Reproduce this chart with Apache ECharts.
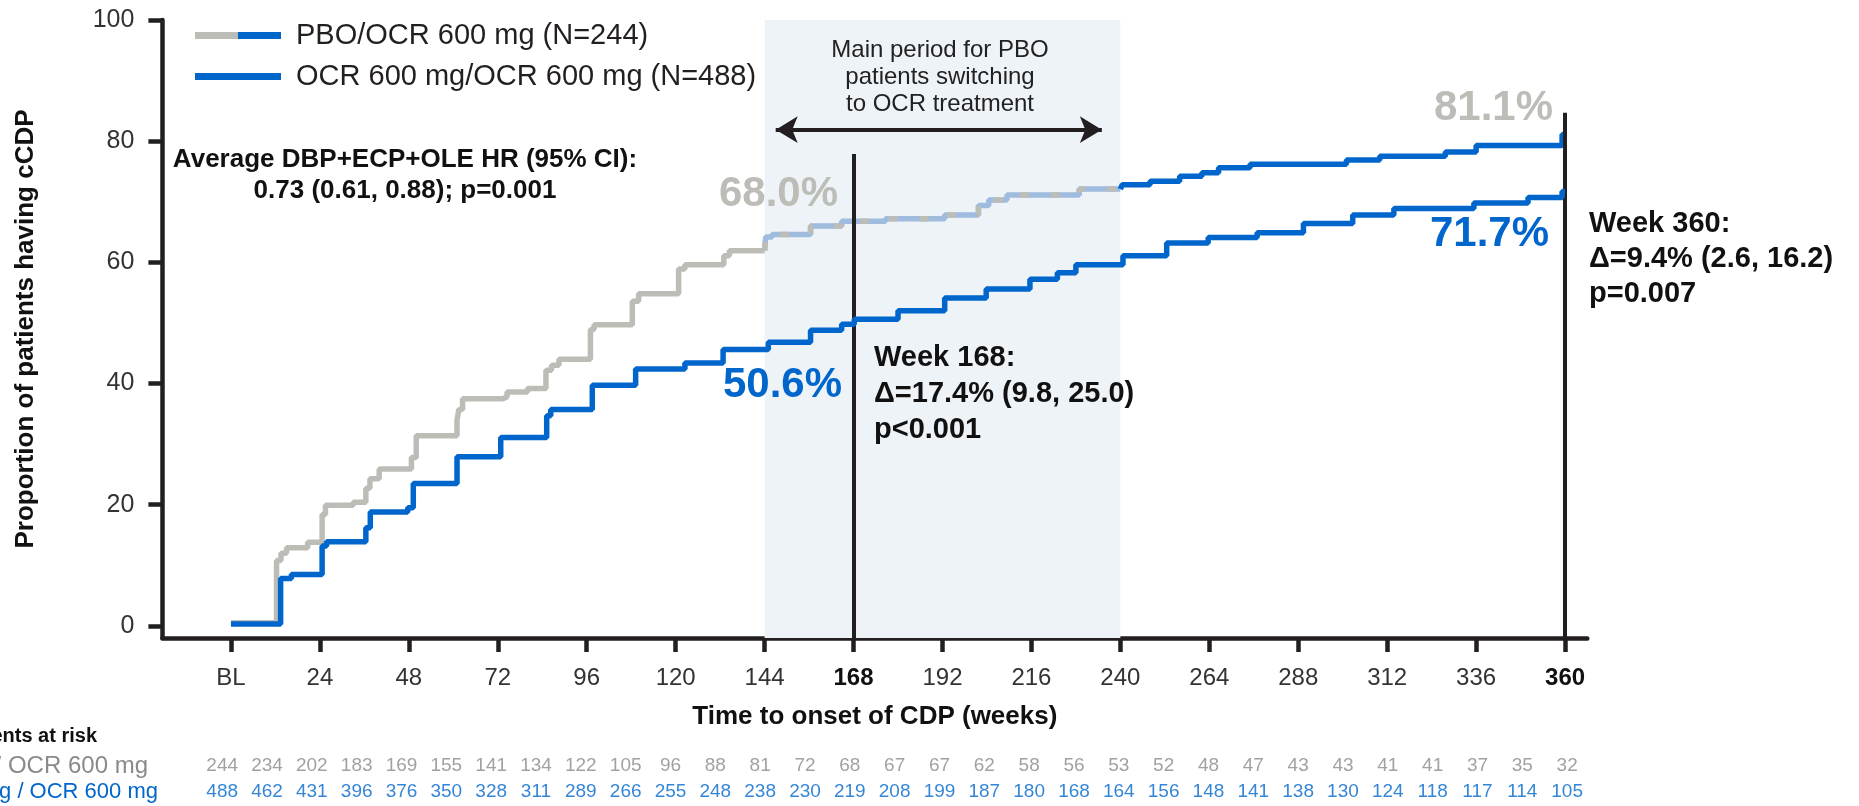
<!DOCTYPE html>
<html lang="en">
<head>
    <meta charset="UTF-8">
    <title>Time to onset of CDP</title>
    <style>html, body { margin: 0; padding: 0; background: #fff; }</style>
</head>
<body>
    <div id="main" style="width: 1859px; height: 806px"></div>
    <script src="https://cdn.jsdelivr.net/npm/echarts@6/dist/echarts.min.js"></script>
    <script type="text/javascript">
        // KM curves (week, % with cCDP)
        var pboWeeks = [0, 12.3, 13.5, 15, 20.7, 24.6, 25.5, 33, 36.4, 37.5, 40, 48.7, 50, 61, 61.5, 62.5, 73.4, 74.5, 80, 85, 86.5, 88.5, 97, 98, 108.3, 110, 120.8, 122.5, 133, 134.5, 144.3, 146, 156.4, 164.8, 176.6, 192.6, 201.7, 204.5, 209.4, 228.9, 240.5, 248, 256, 262, 266.5, 275, 301, 310, 327.7, 336, 359.2, 360];
        var pboVals = [0.5, 10.8, 12, 12.9, 13.8, 18.4, 19.9, 20.4, 22.7, 24.3, 25.9, 27.8, 31.4, 34, 35.7, 37.5, 37.8, 38.6, 39.2, 42.2, 43, 44, 48.9, 49.7, 53.6, 54.8, 58.9, 59.6, 61.1, 61.9, 64.2, 64.6, 66.0, 66.8, 67.2, 67.8, 69.4, 70.3, 71.1, 72.1, 72.8, 73.4, 74.2, 74.8, 75.6, 76.2, 76.9, 77.5, 78.2, 79.3, 81.1, 81.1];
        var ocrWeeks = [0, 13.4, 16.3, 24.6, 25.8, 36.4, 37.6, 47.7, 49.2, 61, 72.8, 85.2, 86.3, 97.5, 109.2, 122.5, 132.8, 145, 156.4, 164.8, 168.2, 180, 192.6, 203.8, 215.6, 223, 228, 240.7, 252.5, 263.7, 276.9, 289.4, 302.7, 313.8, 335.4, 350, 359.2, 360];
        var ocrVals = [0.3, 7.8, 8.5, 13.2, 13.9, 16.2, 18.8, 19.5, 23.5, 27.9, 31.1, 34.7, 35.7, 39.7, 42.4, 43.4, 45.6, 46.8, 48.8, 49.8, 50.6, 52.0, 54.1, 55.6, 57.2, 58.3, 59.6, 61.1, 63.2, 64.1, 64.9, 66.4, 67.8, 68.9, 69.8, 70.7, 71.7, 71.7];

        var xTicks = [0, 24, 48, 72, 96, 120, 144, 168, 192, 216, 240, 264, 288, 312, 336, 360];
        var yTicks = [0, 20, 40, 60, 80, 100];

        // patients at risk, every 12 weeks
        var riskWeeks = [0, 12, 24, 36, 48, 60, 72, 84, 96, 108, 120, 132, 144, 156, 168, 180, 192, 204, 216, 228, 240, 252, 264, 276, 288, 300, 312, 324, 336, 348, 360];
        var riskPbo = [244, 234, 202, 183, 169, 155, 141, 134, 122, 105, 96, 88, 81, 72, 68, 67, 67, 62, 58, 56, 53, 52, 48, 47, 43, 43, 41, 41, 37, 35, 32];
        var riskOcr = [488, 462, 431, 396, 376, 350, 328, 311, 289, 266, 255, 248, 238, 230, 219, 208, 199, 187, 180, 168, 164, 156, 148, 141, 138, 130, 124, 118, 117, 114, 105];

        var pboName = 'PBO/OCR 600 mg (N=244)';
        var ocrName = 'OCR 600 mg/OCR 600 mg (N=488)';

        var GRAY = '#bdbdb8';
        var BLUE = '#0066cc';
        var LIGHTBLUE = '#9fbbde';
        var INK = '#231f20';
        var FONT = '"Liberation Sans", Arial, sans-serif';

        // cut a step curve to the weeks a..b
        function clip(weeks, vals, a, b) {
            var out = [];
            var last = null;
            for (var i = 0; i < weeks.length; i++) {
                if (weeks[i] < a) { last = vals[i]; continue; }
                if (weeks[i] > b) break;
                if (out.length === 0 && weeks[i] > a && last !== null) out.push([a, last]);
                out.push([weeks[i], vals[i]]);
                last = vals[i];
            }
            if (out.length && out[out.length - 1][0] < b) out.push([b, last]);
            return out;
        }

        function stepLine(name, data, color, z, type) {
            return {
                name: name,
                type: 'line',
                step: 'end',
                data: data,
                showSymbol: false,
                silent: true,
                z: z,
                lineStyle: { color: color, width: 5.5, type: type || 'solid', cap: 'butt' },
                itemStyle: { color: color }
            };
        }

        function note(x, y, text, size, color, align, extra) {
            var st = {
                text: text, x: 0, y: 0, fontSize: size, fontFamily: FONT, fill: color,
                textAlign: align, textVerticalAlign: 'middle'
            };
            for (var k in extra) st[k] = extra[k];
            return { type: 'text', x: x, y: y, z: 100, silent: true, style: st };
        }

        var legendIcon = 'image://data:image/svg+xml;charset=utf-8,' + encodeURIComponent(
            '<svg xmlns="http://www.w3.org/2000/svg" width="86" height="7">' +
            '<rect width="43" height="7" fill="' + GRAY + '"/>' +
            '<rect x="43" width="43" height="7" fill="' + BLUE + '"/></svg>');

        var myChart = echarts.init(document.getElementById('main'));

        var option = {
            animation: false,
            textStyle: { fontFamily: FONT },
            grid: [
                { left: 162.4, right: 271.7, top: 20, bottom: 168 },
                { left: 162.4, right: 271.7, top: 753, height: 52 }
            ],
            legend: {
                orient: 'vertical',
                left: 190,
                top: 16,
                itemWidth: 86,
                itemHeight: 7,
                itemGap: 12,
                selectedMode: false,
                textStyle: { fontSize: 29, color: INK, fontFamily: FONT, padding: [0, 0, 0, 10] },
                data: [
                    { name: pboName, icon: legendIcon },
                    { name: ocrName, icon: 'rect' }
                ]
            },
            xAxis: [{
                type: 'value',
                gridIndex: 0,
                min: -18.5,
                max: 366,
                name: 'Time to onset of CDP (weeks)',
                nameLocation: 'middle',
                nameGap: 66,
                nameTextStyle: { fontSize: 26, fontWeight: 'bold', color: '#111' },
                splitLine: { show: false },
                axisLine: { onZero: false, lineStyle: { color: INK, width: 4.5 } },
                axisTick: { customValues: xTicks, length: 14, lineStyle: { color: INK, width: 4.5 } },
                axisLabel: {
                    customValues: xTicks,
                    margin: 28,
                    fontSize: 24,
                    color: '#333',
                    formatter: function (v) {
                        if (v === 0) return 'BL';
                        if (v === 168 || v === 360) return '{b|' + v + '}';
                        return '' + v;
                    },
                    rich: { b: { fontSize: 24, fontWeight: 'bold', color: '#111' } }
                }
            }, {
                type: 'value',
                gridIndex: 1,
                min: -16,
                max: 365.4,
                show: false
            }],
            yAxis: [{
                type: 'value',
                gridIndex: 0,
                min: -2,
                max: 100,
                name: 'Proportion of patients having cCDP',
                nameLocation: 'middle',
                nameGap: 124,
                nameTextStyle: { fontSize: 26, fontWeight: 'bold', color: '#111' },
                splitLine: { show: false },
                axisLine: { show: true, onZero: false, lineStyle: { color: INK, width: 4.5 } },
                axisTick: { show: true, customValues: yTicks, length: 14, lineStyle: { color: INK, width: 4.5 } },
                axisLabel: { customValues: yTicks, margin: 28, fontSize: 25, color: '#333' }
            }, {
                type: 'category',
                gridIndex: 1,
                inverse: true,
                data: ['pbo', 'ocr'],
                show: false
            }],
            graphic: [
                note(405, 160, 'Average DBP+ECP+OLE HR (95% CI):', 26, '#111', 'center', { fontWeight: 'bold' }),
                note(405, 191, '0.73 (0.61, 0.88); p=0.001', 26, '#111', 'center', { fontWeight: 'bold' }),
                note(940, 77, 'Main period for PBO\npatients switching\nto OCR treatment', 24, '#222', 'center', { lineHeight: 27 }),
                note(838, 194, '68.0%', 42, GRAY, 'right', { fontWeight: 'bold' }),
                note(1553, 108, '81.1%', 42, GRAY, 'right', { fontWeight: 'bold' }),
                note(1549, 234, '71.7%', 42, BLUE, 'right', { fontWeight: 'bold' }),
                note(842, 385, '50.6%', 42, BLUE, 'right', { fontWeight: 'bold' }),
                note(874, 394, 'Week 168:\n\u0394=17.4% (9.8, 25.0)\np<0.001', 29, '#111', 'left', { fontWeight: 'bold', lineHeight: 36 }),
                note(1589, 259, 'Week 360:\n\u0394=9.4% (2.6, 16.2)\np=0.007', 29, '#111', 'left', { fontWeight: 'bold', lineHeight: 35 }),
                note(97, 736, 'Patients at risk', 20, '#111', 'right', { fontWeight: 'bold' }),
                note(148, 766, 'PBO / OCR 600 mg', 24, '#8a8a8a', 'right', {}),
                note(158, 792, 'OCR 600 mg / OCR 600 mg', 22, BLUE, 'right', {})
            ],
            series: [
                {
                    // shading, reference lines and arrow
                    name: 'annotations',
                    type: 'line',
                    data: [],
                    z: 1,
                    silent: true,
                    markArea: {
                        silent: true,
                        itemStyle: { color: '#eef3f8' },
                        data: [[{ coord: [144, -2] }, { coord: [240, 100] }]]
                    },
                    markLine: {
                        silent: true,
                        symbol: ['none', 'none'],
                        label: { show: false },
                        lineStyle: { color: INK, width: 4, type: 'solid' },
                        data: [
                            [{ coord: [168, -2] }, { coord: [168, 77.9] }],
                            [{ coord: [360, -2] }, { coord: [360, 84.7] }],
                            [{ coord: [147, 81.9], symbol: 'arrow', symbolSize: [20, 22] },
                             { coord: [235, 81.9], symbol: 'arrow', symbolSize: [20, 22] }]
                        ]
                    }
                },
                stepLine(pboName, clip(pboWeeks, pboVals, 0, 144), GRAY, 3),
                stepLine(pboName, clip(pboWeeks, pboVals, 144, 240), LIGHTBLUE, 3),
                stepLine(pboName, clip(pboWeeks, pboVals, 144, 240), GRAY, 4, [9, 22]),
                stepLine(pboName, clip(pboWeeks, pboVals, 240, 360), BLUE, 3),
                stepLine(ocrName, ocrWeeks.map(function (w, i) { return [w, ocrVals[i]]; }), BLUE, 5),
                {
                    name: 'risk pbo',
                    type: 'scatter',
                    xAxisIndex: 1,
                    yAxisIndex: 1,
                    symbolSize: 1,
                    itemStyle: { color: 'rgba(0,0,0,0)' },
                    silent: true,
                    data: riskWeeks.map(function (w, i) { return [w, 0, riskPbo[i]]; }),
                    label: {
                        show: true,
                        position: 'inside',
                        fontSize: 19,
                        color: '#8a8a8a',
                        formatter: function (p) { return '' + p.value[2]; }
                    }
                },
                {
                    name: 'risk ocr',
                    type: 'scatter',
                    xAxisIndex: 1,
                    yAxisIndex: 1,
                    symbolSize: 1,
                    itemStyle: { color: 'rgba(0,0,0,0)' },
                    silent: true,
                    data: riskWeeks.map(function (w, i) { return [w, 1, riskOcr[i]]; }),
                    label: {
                        show: true,
                        position: 'inside',
                        fontSize: 19,
                        color: BLUE,
                        formatter: function (p) { return '' + p.value[2]; }
                    }
                }
            ]
        };
        myChart.setOption(option);
    </script>
</body>
</html>
